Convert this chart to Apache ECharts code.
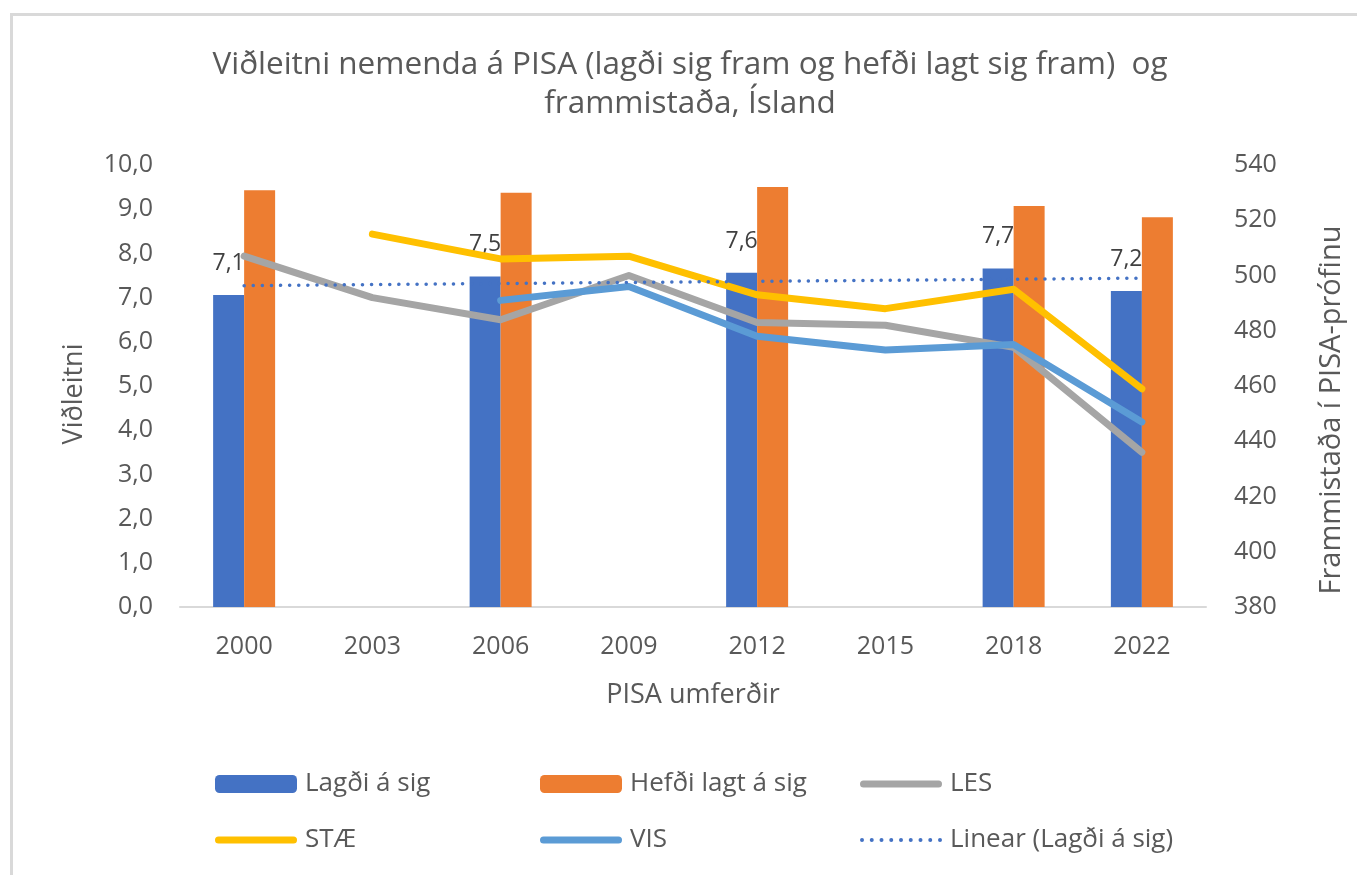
<!DOCTYPE html>
<html>
<head>
<meta charset="utf-8">
<script src="https://cdn.jsdelivr.net/npm/echarts@6/dist/echarts.min.js"></script>
<style>
  html, body { margin: 0; padding: 0; background: #fff; }
  #chart { width: 1357px; height: 875px; }
</style>
</head>
<body>
<div id="chart"></div>
<script>
// PISA umferðir
const years = ['2000', '2003', '2006', '2009', '2012', '2015', '2018', '2022'];

// viðleitni (vinstri ás)
const lagdi = [7.06, null, 7.48, null, 7.56, null, 7.66, 7.15];
const hefdi = [9.43, null, 9.37, null, 9.5, null, 9.07, 8.82];
// línuleg leitnilína (Lagði á sig), lesin af myndinni við fyrsta og síðasta ár
const trend = [7.27, null, null, null, null, null, null, 7.44];

// frammistaða (hægri ás)
const les = [507, 492, 484, 500, 483, 482, 474, 436];
const stae = [null, 515, 506, 507, 493, 488, 495, 459];
const vis = [null, null, 491, 496, 478, 473, 475, 447];

const textColor = '#595959';
const font = "'Open Sans', 'Noto Sans', sans-serif";

// legend icons: thick rounded line and a row of dots
const lineIcon = 'path://M3.5,0H78.5A3.5,3.5,0,0,1,78.5,7H3.5A3.5,3.5,0,0,1,3.5,0Z';
let dots = '';
for (let i = 0; i < 9; i++) {
  const cx = 2 + i * 9.75;
  dots += 'M' + (cx - 2) + ',2a2,2,0,1,0,4,0a2,2,0,1,0,-4,0Z';
}
const dotIcon = 'path://' + dots;

const chart = echarts.init(document.getElementById('chart'));

function legendAt(name, icon, left, centerY, h) {
  return {
    data: [icon ? { name: name, icon: icon } : name],
    left: left, top: centerY - 11,
    itemWidth: 82, itemHeight: h, itemGap: 0, padding: 0,
    textStyle: { color: textColor, fontSize: 26, fontFamily: font, padding: [0, 0, 0, 3] },
    selectedMode: false
  };
}

const option = {
  backgroundColor: '#fff',
  animation: false,
  graphic: [{
    type: 'rect', left: 9, top: 12, silent: true,
    shape: { width: 1360, height: 880 },
    style: { fill: 'none', stroke: '#d9d9d9', lineWidth: 3 }
  }],
  title: {
    text: 'Viðleitni nemenda á PISA (lagði sig fram og hefði lagt sig fram)  og\nframmistaða, Ísland',
    left: 690, top: 46, textAlign: 'center', padding: 0,
    textStyle: { color: textColor, fontSize: 31.5, fontWeight: 'normal', fontFamily: font, lineHeight: 39 }
  },
  legend: [
    legendAt('Lagði á sig', null, 215, 782, 18),
    legendAt('Hefði lagt á sig', null, 540, 782, 18),
    legendAt('LES', lineIcon, 860, 782, 7),
    legendAt('STÆ', lineIcon, 215, 838, 7),
    legendAt('VIS', lineIcon, 540, 838, 7),
    legendAt('Linear (Lagði á sig)', dotIcon, 860, 838, 4)
  ],
  grid: { left: 180, right: 151, top: 165, bottom: 268 },
  xAxis: {
    type: 'category',
    data: years,
    name: 'PISA umferðir',
    nameLocation: 'middle',
    nameGap: 75,
    nameTextStyle: { color: textColor, fontSize: 27, fontFamily: font },
    axisLine: { lineStyle: { color: '#d9d9d9', width: 2 } },
    axisTick: { show: false },
    axisLabel: { color: textColor, fontSize: 25, fontFamily: font, margin: 27 }
  },
  yAxis: [
    {
      type: 'value', min: 0, max: 10, interval: 1,
      name: 'Viðleitni', nameLocation: 'middle', nameGap: 92, nameRotate: 90,
      nameTextStyle: { color: textColor, fontSize: 27, fontFamily: font, padding: [0, 16, 0, 0] },
      axisLine: { show: false }, axisTick: { show: false }, splitLine: { show: false },
      axisLabel: {
        color: textColor, fontSize: 25, fontFamily: font, margin: 27,
        formatter: v => v.toFixed(1).replace('.', ',')
      }
    },
    {
      type: 'value', min: 380, max: 540, interval: 20,
      name: 'Frammistaða í PISA-prófinu', nameLocation: 'middle', nameGap: 111, nameRotate: 90,
      nameTextStyle: { color: textColor, fontSize: 29, fontFamily: font, padding: [0, 48, 0, 0] },
      axisLine: { show: false }, axisTick: { show: false }, splitLine: { show: false },
      axisLabel: { color: textColor, fontSize: 25, fontFamily: font, margin: 28 }
    }
  ],
  series: [
    {
      name: 'Lagði á sig', type: 'bar', data: lagdi, yAxisIndex: 0,
      barWidth: 31, barGap: '0%',
      itemStyle: { color: '#4472C4' },
      label: {
        show: true, position: 'top', distance: 20,
        color: '#404040', fontSize: 23, fontFamily: font,
        formatter: p => p.value.toFixed(1).replace('.', ',')
      }
    },
    {
      name: 'Hefði lagt á sig', type: 'bar', data: hefdi, yAxisIndex: 0,
      barWidth: 31, barGap: '0%',
      itemStyle: { color: '#ED7D31' }
    },
    {
      name: 'LES', type: 'line', data: les, yAxisIndex: 1,
      symbol: 'none', itemStyle: { color: '#A5A5A5' },
      lineStyle: { color: '#A5A5A5', width: 7, cap: 'round', join: 'round' }
    },
    {
      name: 'STÆ', type: 'line', data: stae, yAxisIndex: 1,
      symbol: 'none', itemStyle: { color: '#FFC000' },
      lineStyle: { color: '#FFC000', width: 7, cap: 'round', join: 'round' }
    },
    {
      name: 'VIS', type: 'line', data: vis, yAxisIndex: 1,
      symbol: 'none', itemStyle: { color: '#5B9BD5' },
      lineStyle: { color: '#5B9BD5', width: 7, cap: 'round', join: 'round' }
    },
    {
      name: 'Linear (Lagði á sig)', type: 'line', data: trend, yAxisIndex: 0,
      connectNulls: true, symbol: 'none', itemStyle: { color: '#4472C4' },
      lineStyle: { color: '#4472C4', width: 3.5, type: [0.1, 9], cap: 'round' }
    }
  ]
};

chart.setOption(option);
window.addEventListener('resize', () => chart.resize());
</script>
</body>
</html>
